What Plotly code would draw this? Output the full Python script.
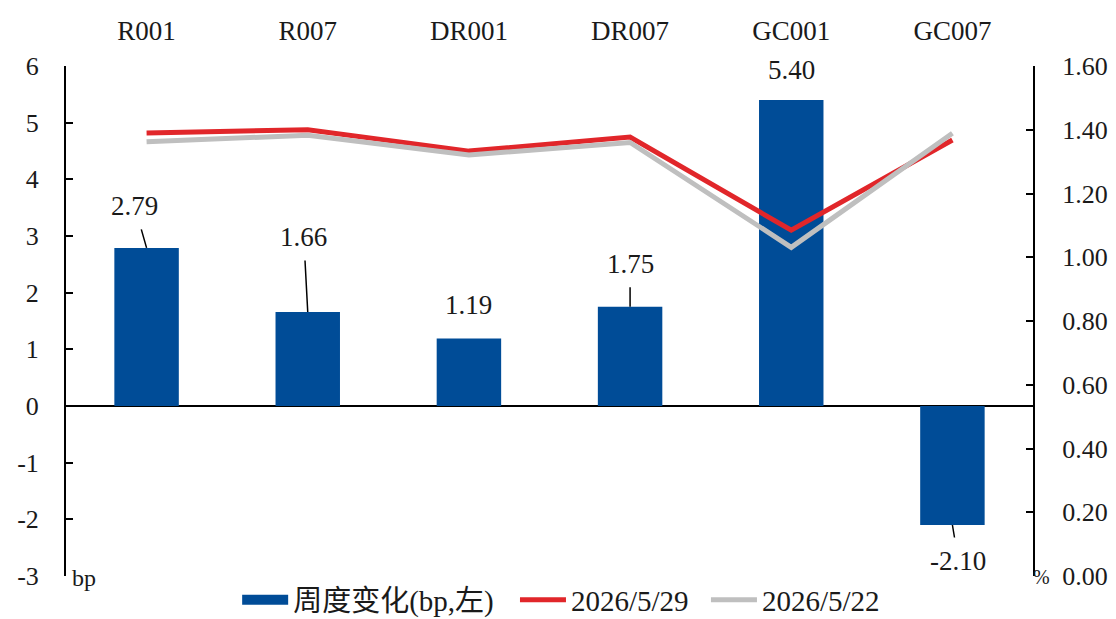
import plotly.graph_objects as go

# Money-market repo rates: week-on-week change (bp, left) and levels (%, right)
categories = ["R001", "R007", "DR001", "DR007", "GC001", "GC007"]
weekly_change_bp = [2.79, 1.66, 1.19, 1.75, 5.40, -2.10]
rate_0529 = [1.390, 1.400, 1.333, 1.377, 1.085, 1.368]
rate_0522 = [1.362, 1.383, 1.321, 1.360, 1.031, 1.389]

left_ticks = [-3, -2, -1, 0, 1, 2, 3, 4, 5, 6]
left_tick_text = ["-3", "-2", "-1", "0", "1", "2", "3", "4", "5", "6"]
right_ticks = [0.0, 0.2, 0.4, 0.6, 0.8, 1.0, 1.2, 1.4, 1.6]

name_change = "周度变化(bp,左)"
name_0529 = "2026/5/29"
name_0522 = "2026/5/22"

FONT = "Liberation Serif, Noto Sans CJK SC, serif"
TXT = "#1a1a1a"
BLUE = "#004C97"
RED = "#E1262A"
GRAY = "#BFBFBF"

fig = go.Figure()

fig.add_trace(go.Bar(
    x=categories, y=weekly_change_bp, width=0.4,
    marker=dict(color=BLUE, line=dict(width=0)),
    name=name_change, legendgroup="chg", showlegend=False,
    yaxis="y",
))
# legend entry for the bars: a wide flat swatch
fig.add_trace(go.Scatter(
    x=[None], y=[None], mode="lines",
    line=dict(color=BLUE, width=13),
    name=name_change, legendgroup="chg", yaxis="y", legend="legend",
))
fig.add_trace(go.Scatter(
    x=categories, y=rate_0529, mode="lines",
    line=dict(color=RED, width=5),
    name=name_0529, yaxis="y2", legend="legend2",
))
fig.add_trace(go.Scatter(
    x=categories, y=rate_0522, mode="lines",
    line=dict(color=GRAY, width=5),
    name=name_0522, yaxis="y2", legend="legend3",
))

# value labels on the bars, with leader lines where the label sits apart
label_offsets = {
    "R001": (-12, -42, True),
    "R007": (-4, -75, True),
    "DR001": (0, -34, False),
    "DR007": (0, -43, True),
    "GC001": (0, -30, False),
    "GC007": (6, 36, True),
}
annotations = []
for cat, val in zip(categories, weekly_change_bp):
    ax, ay, arrow = label_offsets[cat]
    if arrow:
        annotations.append(dict(
            x=cat, y=val, xref="x", yref="y", text=f"{val:.2f}",
            showarrow=True, arrowhead=0, arrowwidth=1.5, arrowcolor="#000000",
            ax=ax, ay=ay, borderpad=8, standoff=0,
            font=dict(family=FONT, size=27, color=TXT),
        ))
    else:
        annotations.append(dict(
            x=cat, y=val, xref="x", yref="y", text=f"{val:.2f}",
            showarrow=False, xshift=ax, yshift=-ay,
            font=dict(family=FONT, size=27, color=TXT),
        ))

# axis unit labels
annotations.append(dict(
    x=0, y=-3, xref="paper", yref="y", text="bp", showarrow=False,
    xanchor="left", yanchor="middle", xshift=4, yshift=-2,
    font=dict(family=FONT, size=24, color=TXT),
))
annotations.append(dict(
    x=1, y=0, xref="paper", yref="y2", text="%", showarrow=False,
    xanchor="left", yanchor="middle", xshift=-2, yshift=-1,
    font=dict(family=FONT, size=20, color=TXT),
))

legend_style = dict(
    orientation="h", xanchor="left", y=-0.047, yanchor="middle",
    font=dict(family=FONT, size=29, color=TXT),
    bgcolor="rgba(0,0,0,0)", itemwidth=46,
)

fig.update_layout(
    width=1116, height=619,
    margin=dict(l=66, r=83, t=66, b=43, autoexpand=False),
    paper_bgcolor="white", plot_bgcolor="white",
    font=dict(family=FONT, size=26, color=TXT),
    bargap=0.6,
    showlegend=True,
    legend=dict(x=0.177, **legend_style),
    legend2=dict(x=0.4643, **legend_style),
    legend3=dict(x=0.6618, **legend_style),
    xaxis=dict(
        type="category", side="top", showline=False, showgrid=False,
        ticks="", zeroline=False, ticklabelstandoff=20,
        tickfont=dict(family=FONT, size=27, color=TXT),
        range=[-0.5, 5.5],
    ),
    yaxis=dict(
        range=[-3, 6], tickmode="array", tickvals=left_ticks, ticktext=left_tick_text,
        showline=True, linecolor="#000000", linewidth=2,
        ticks="inside", ticklen=7, tickwidth=2, tickcolor="#000000",
        showgrid=False, zeroline=True, zerolinecolor="#000000", zerolinewidth=2,
        ticklabelstandoff=20,
        tickfont=dict(family=FONT, size=26, color=TXT),
    ),
    yaxis2=dict(
        range=[0, 1.6], tickmode="array", tickvals=right_ticks, tickformat=".2f",
        overlaying="y", side="right",
        showline=True, linecolor="#000000", linewidth=2,
        ticks="inside", ticklen=7, tickwidth=2, tickcolor="#000000",
        showgrid=False, zeroline=False,
        ticklabelstandoff=22,
        tickfont=dict(family=FONT, size=26, color=TXT),
    ),
    annotations=annotations,
)

fig.write_html("out.html")
